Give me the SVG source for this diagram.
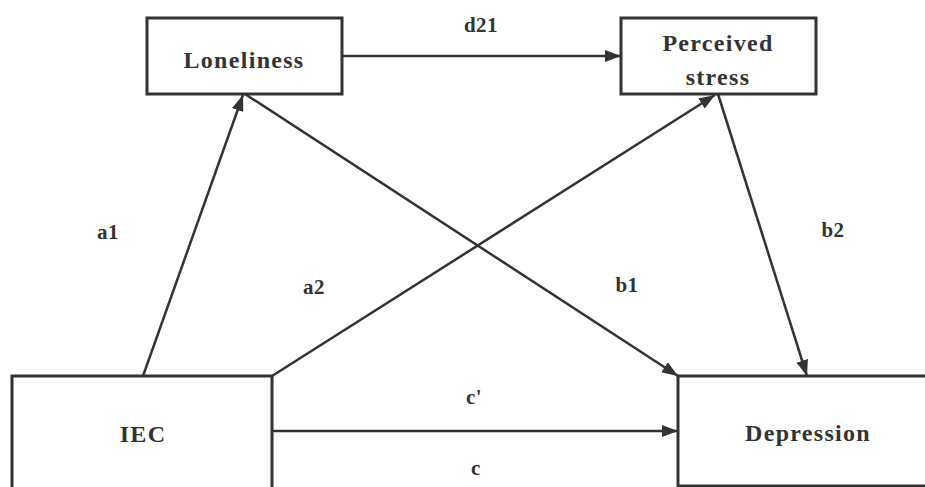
<svg xmlns="http://www.w3.org/2000/svg" width="925" height="487" viewBox="0 0 925 487">
<defs>
<marker id="ah" viewBox="0 0 16 12" refX="16" refY="6" markerWidth="16" markerHeight="12" markerUnits="userSpaceOnUse" orient="auto">
<path d="M0,0 L16,6 L0,12 Z" fill="#333"/>
</marker>
<style>
.box{fill:#fff;stroke:#333;stroke-width:3}
.lbl{font-family:"Liberation Serif","Times New Roman",serif;font-weight:bold;fill:#333;text-anchor:middle}
.node{font-size:24px;letter-spacing:1.3px}
.edge{font-size:21px;letter-spacing:0.5px}
.conn line{stroke:#333;stroke-width:2.5;marker-end:url(#ah)}
</style>
</defs>
<rect width="925" height="487" fill="#fff"/>
<g class="conn">
<line x1="342" y1="56" x2="621" y2="56"/>
<line x1="143" y1="376" x2="243" y2="95"/>
<line x1="272" y1="376" x2="715" y2="95"/>
<line x1="245" y1="94" x2="678" y2="376"/>
<line x1="718" y1="94" x2="807" y2="376"/>
<line x1="272" y1="431" x2="678" y2="431"/>
</g>
<g id="loneliness"><rect class="box" x="147" y="18" width="195" height="76"/><text class="lbl node" x="244" y="68">Loneliness</text></g>
<g id="stress"><rect class="box" x="621" y="18" width="195" height="76"/><text class="lbl node" x="718" y="51">Perceived</text><text class="lbl node" x="718" y="85">stress</text></g>
<g id="iec"><rect class="box" x="12" y="376" width="260" height="115"/><text class="lbl node" x="143" y="442">IEC</text></g>
<g id="depression"><rect class="box" x="678" y="376" width="255" height="110"/><text class="lbl node" x="808" y="441">Depression</text></g>
<g id="labels">
<text class="lbl edge" x="481" y="32">d21</text>
<text class="lbl edge" x="108" y="239">a1</text>
<text class="lbl edge" x="314" y="294">a2</text>
<text class="lbl edge" x="627" y="292">b1</text>
<text class="lbl edge" x="833" y="237">b2</text>
<text class="lbl edge" x="474" y="404">c'</text>
<text class="lbl edge" x="476" y="475">c</text>
</g>
</svg>
